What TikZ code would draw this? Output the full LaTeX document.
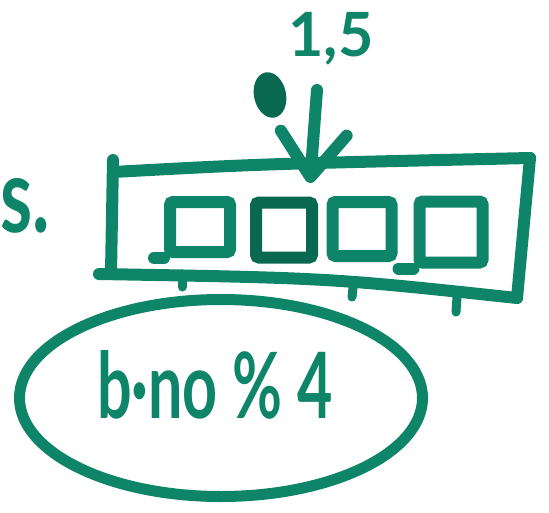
\documentclass[tikz,border=0pt]{standalone}
\usepackage{fontspec}
\setmainfont{Lato}
\usetikzlibrary{arrows.meta,shapes.geometric}
\definecolor{marker}{RGB}{14,132,104}
\definecolor{markerdark}{RGB}{8,104,80}
\tikzset{
  pen/.style={draw=marker, line width=12pt, line cap=round, line join=round},
  tickpen/.style={draw=marker, line width=9pt, line cap=round},
  cell/.style={rectangle, draw=marker, line width=12pt, rounded corners=3pt, inner sep=0pt},
  ink/.style={text=marker, font=\fontsize{61}{61}\selectfont\bfseries, inner sep=0pt},
}
\begin{document}
\begin{tikzpicture}[x=1pt,y=-1pt]
\useasboundingbox (0,0) rectangle (549,512);

% outer tray, four separate strokes
\coordinate (tl) at (113,160);
\coordinate (tr) at (530,158);
\coordinate (br) at (517,298);
\coordinate (bl) at (99,274);
\draw[pen] (tl) -- (111,273);
\draw[pen] (113,172) .. controls (260,164) .. (tr);
\draw[pen] (tr) -- (br);
\draw[pen] (bl) .. controls (330,278) .. (br);

% four cells inside the tray
\node[cell, minimum width=60pt, minimum height=50pt] (c1) at (200,227) {};
\node[cell, draw=markerdark, minimum width=56pt, minimum height=55pt] (c2) at (284,230) {};
\node[cell, minimum width=59pt, minimum height=54pt] (c3) at (362,229) {};
\node[cell, minimum width=63pt, minimum height=61pt] (c4) at (451,232) {};
\draw[pen] (c1.south west) -- ++(-10,0);
\draw[pen] (c4.south west) -- ++(-15,0);

% small ticks under the tray
\draw[tickpen] (182,274) -- (182,287);
\draw[tickpen] (353,288) -- (352,297);
\draw[tickpen] (457,297) -- (456,312);

% label and arrow
\node[ink, anchor=base] (label) at (331,56) {1,5};
\fill[markerdark, rotate around={12:(270,95)}] (270,95) ellipse [x radius=16, y radius=23];
\coordinate (from) at (317,90);
\coordinate (tip) at (310,183);
\draw[pen, -{Straight Barb[length=44pt, width=66pt, round]}] (from) -- (tip);

% side mark at the left edge
\node[ink, anchor=base east] (side) at (50,232) {\scalebox{1.2}[1.7]{s.}};

% note
\node[ellipse, draw=marker, line width=11pt, minimum width=403pt, minimum height=197pt, inner sep=0pt] (note) at (221,398) {};
\node[ink, anchor=base] (notetext) at (215,418) {\scalebox{1}[1.5]{b·no \% 4}};
\end{tikzpicture}
\end{document}
